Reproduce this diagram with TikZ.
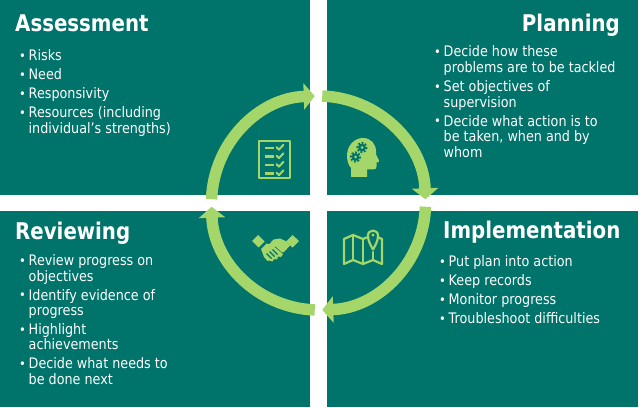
\documentclass[tikz,border=0pt]{standalone}
\usepackage{fontspec}
\setmainfont{DejaVu Sans}[FakeStretch=0.88]
\newfontfamily\titlefont{DejaVu Sans}[FakeStretch=0.86]
\usetikzlibrary{arrows.meta}
\definecolor{tealq}{RGB}{0,115,106}
\definecolor{lgreen}{RGB}{164,214,106}
\newcommand\bul{\raisebox{0.2pt}{\fontsize{13}{13}\selectfont\textbullet}}
\newcommand\bodyset{\fontsize{14.5}{15.2}\selectfont}
\newcommand\isep{\\[3.4pt]}
\tikzset{
  quad/.style={fill=tealq},
  ttl/.style={text=white, inner sep=0pt, font=\titlefont\bfseries\fontsize{23}{23}\selectfont},
  body/.style={text=white, inner sep=0pt, anchor=base west, font=\bodyset},
  ring/.style={draw=lgreen, line width=11.5pt, -{Triangle[width=26pt,length=11pt]}},
  icon/.style={draw=lgreen, line width=2.2pt, line join=round, line cap=round},
  iconfill/.style={fill=lgreen},
}
\begin{document}
\begin{tikzpicture}[x=1pt,y=1pt]
\useasboundingbox (0,0) rectangle (642,407);
\fill[white] (0,0) rectangle (642,407);
% quadrants
\fill[quad] (0,212) rectangle (310,407);
\fill[quad] (327,212) rectangle (638,407);
\fill[quad] (0,0) rectangle (310,195.5);
\fill[quad] (327,0) rectangle (638,195.5);
% cycle
\coordinate (c) at (318.5,204);
\draw[ring] ([shift={(178:107)}]c) arc (178:92:107);
\draw[ring] ([shift={(88:107)}]c) arc (88:2:107);
\draw[ring] ([shift={(-2:107)}]c) arc (-2:-88:107);
\draw[ring] ([shift={(-92:107)}]c) arc (-92:-178:107);
% titles
\node[ttl, anchor=base west] (tA) at (15,375) {Assessment};
\node[ttl, anchor=base east] (tP) at (620,375) {Planning};
\node[ttl, anchor=base west] (tR) at (15,167) {Reviewing};
\node[ttl, anchor=base west] (tI) at (443,168) {Implementation};
% bodies
\node[body] (bA) at (19,346) {\begin{tabular}[t]{@{}p{9.5pt}@{}l@{}}
 \bul & Risks\isep
 \bul & Need\isep
 \bul & Responsivity\isep
 \bul & Resources (including\\
      & individual’s strengths)
 \end{tabular}};
\node[body] (bP) at (434,350) {\begin{tabular}[t]{@{}p{9.5pt}@{}l@{}}
 \bul & Decide how these\\
      & problems are to be tackled\isep
 \bul & Set objectives of\\
      & supervision\isep
 \bul & Decide what action is to\\
      & be taken, when and by\\
      & whom
 \end{tabular}};
\node[body] (bR) at (19,141.5) {\begin{tabular}[t]{@{}p{9.5pt}@{}l@{}}
 \bul & Review progress on\\
      & objectives\isep
 \bul & Identify evidence of\\
      & progress\isep
 \bul & Highlight\\
      & achievements\isep
 \bul & Decide what needs to\\
      & be done next
 \end{tabular}};
\node[body] (bI) at (439,140) {\begin{tabular}[t]{@{}p{9.5pt}@{}l@{}}
 \bul & Put plan into action\isep
 \bul & Keep records\isep
 \bul & Monitor progress\isep
 \bul & Troubleshoot difficulties
 \end{tabular}};
% icon: checklist
\begin{scope}[shift={(258,267)}, yscale=-1]
 \draw[icon, line cap=butt] (1.1,1.1) rectangle (31.9,37.9);
 \foreach \yy in {8,16.5,25,33.5}{
   \draw[icon, line cap=butt] (7,\yy) -- (16,\yy);
   \draw[icon, line width=2pt] (18.5,\yy-0.8) -- (21,\yy+1.6) -- (25.5,\yy-3.2);
 }
\end{scope}
% icon: head with gears
\begin{scope}[shift={(347,269)}, yscale=-1]
 \fill[iconfill] (4,39) -- (4,30) .. controls (1.2,27) and (0,22.5) .. (0,17.5)
   .. controls (0,7.5) and (7.5,0) .. (16,0) .. controls (24,0) and (29,6) .. (29,13.5)
   -- (29,16.5) -- (32,22.5) .. controls (32.5,24) and (31.5,24.5) .. (29.5,24.5)
   -- (29.5,28.5) .. controls (29.5,30.5) and (28.5,31.5) .. (26.5,31.5) -- (20,31.5) -- (20,39) -- cycle;
 \foreach \gx/\gy in {15/9.5,8.5/19}{
   \fill[tealq] (\gx,\gy) circle (3.8);
   \draw[tealq, line width=2.2pt, dash pattern=on 1.7pt off 1.7pt] (\gx,\gy) circle (4.5);
   \fill[lgreen] (\gx,\gy) circle (1.5);
 }
\end{scope}
% icon: handshake
\begin{scope}[shift={(252,173)}, yscale=-1]
 \fill[iconfill] (0,7) -- (6,1) -- (12.5,7.5) -- (6.5,13.5) -- cycle;
 \fill[iconfill] (34,7.5) -- (40.5,1) -- (47,7) -- (40.5,13.5) -- cycle;
 \fill[iconfill] (9,15) -- (14.5,9.5) -- (20,11) -- (31,20) -- (29,23) -- (26,22.5)
   -- (25,25.5) -- (22,25) -- (20.5,27.5) -- (17,26.5) -- (15.5,27) -- (12,23) -- cycle;
 \fill[iconfill] (33.5,7) -- (38,11.5) -- (31.5,18.5) -- (29.5,18) -- (23.5,12.5) -- (20,14.5)
   -- (16.5,13.5) -- (16.5,11) -- (21.5,5.5) -- (28,4.5) -- cycle;
 \draw[tealq, line width=1.1pt] (14.5,19.5) -- (19.5,24.5) (17.5,17.5) -- (22.5,22.5) (20.5,15.5) -- (25.5,20.5);
\end{scope}
% icon: map with pin
\begin{scope}[shift={(343,178)}, yscale=-1]
 \draw[icon] (24,8.4) -- (20,10) -- (10,6) -- (1,10) -- (1,35) -- (10,31) -- (20,35) -- (30,31) -- (39,35) -- (39,10) -- (35.6,8.6);
 \draw[icon] (10,6) -- (10,31) (20,10) -- (20,35) (30,23) -- (30,31);
 \draw[icon] (30,20.5) .. controls (27.5,16) and (25,12) .. (25,6.5)
   .. controls (25,0) and (35,0) .. (35,6.5) .. controls (35,12) and (32.5,16) .. (30,20.5);
 \fill[lgreen] (30,6) circle (1.6);
\end{scope}
\end{tikzpicture}
\end{document}
